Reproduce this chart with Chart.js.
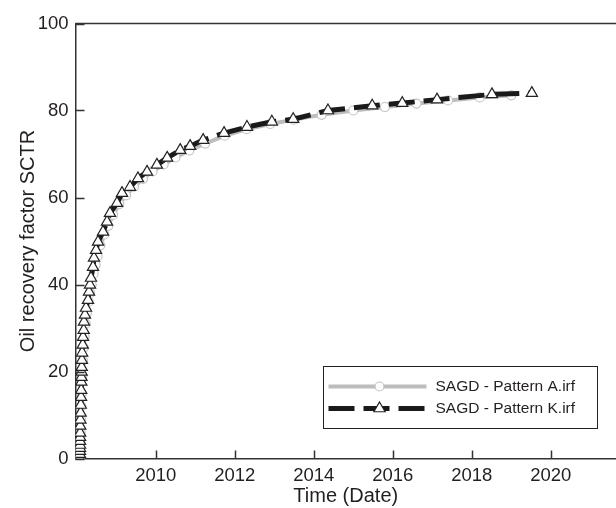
<!DOCTYPE html>
<html>
<head>
<meta charset="utf-8">
<title>Oil recovery factor</title>
<script src="https://cdn.jsdelivr.net/npm/chart.js@4.4.1/dist/chart.umd.min.js"></script>
<style>
  html, body { margin: 0; padding: 0; background: #fff; }
  #wrap { width: 616px; height: 508px; }
</style>
</head>
<body>
<div id="wrap"><canvas id="recovery" width="616" height="508"></canvas></div>
<script>
// axis ticks
const yearTicks = [2010, 2012, 2014, 2016, 2018, 2020];
const recoveryTicks = [0, 20, 40, 60, 80, 100];

// SAGD - Pattern K.irf (decimal year, recovery %)
const patternKTimes = [
  2008.080, 2008.081, 2008.082, 2008.083, 2008.084, 2008.085, 2008.086, 2008.088,
  2008.090, 2008.093, 2008.099, 2008.103, 2008.110, 2008.114,
  2008.118, 2008.121, 2008.124, 2008.127,
  2008.132, 2008.138, 2008.152, 2008.160, 2008.177, 2008.185,
  2008.210, 2008.236, 2008.286, 2008.312, 2008.337, 2008.362, 2008.413, 2008.438,
  2008.489, 2008.540, 2008.666, 2008.767, 2008.843,
  2009.020, 2009.147, 2009.350, 2009.550, 2009.780,
  2010.030, 2010.290, 2010.620, 2010.870,
  2011.200, 2011.730, 2012.310, 2012.940, 2013.480, 2014.360,
  2015.480, 2016.240, 2017.120, 2018.510, 2019.520
];
const patternKValues = [
  0, 1, 1.7, 2.4, 3.1, 4, 4.9, 5.9,
  7.5, 8.9, 10.5, 12.3, 14.1, 15.7,
  17.6, 18.7, 19.9, 21,
  22.6, 24.3, 26.1, 27.9, 29.5, 31.4,
  33, 34.6, 36.4, 38.3, 39.9, 41.5, 44, 46.1,
  47.9, 49.8, 52.1, 54.4, 56.4,
  58.7, 61, 62.4, 64.4, 65.9,
  67.5, 69.1, 70.9, 71.8,
  73.2, 74.8, 76.2, 77.4, 78.0, 80.0,
  81.1, 81.7, 82.5, 83.7, 84.0
];

// SAGD - Pattern A.irf
const patternATimes = [
  2008.085, 2008.09, 2008.095, 2008.10, 2008.11, 2008.12, 2008.13, 2008.145,
  2008.16, 2008.18, 2008.20, 2008.23, 2008.26, 2008.30, 2008.34, 2008.38,
  2008.43, 2008.48, 2008.53, 2008.60, 2008.70, 2008.80, 2008.92,
  2009.08, 2009.25, 2009.45, 2009.68, 2009.92,
  2010.20, 2010.50, 2010.85, 2011.25, 2011.75, 2012.30, 2012.90, 2013.50,
  2014.20, 2015.00, 2015.80, 2016.60, 2017.40, 2018.20, 2019.00
];
const patternAValues = [
  0, 2, 4, 6, 9, 12, 15, 19,
  22.5, 25.5, 28, 31, 33.5, 36, 38, 40,
  42.5, 44.5, 46.5, 49, 51.5, 53.5, 56,
  58.5, 60.5, 62.5, 64.3, 66,
  67.6, 69.2, 70.8, 72.4, 74.2, 75.7, 76.9, 77.9,
  79.0, 80.0, 80.8, 81.6, 82.3, 83.0, 83.5
];

const seriesNames = ['SAGD - Pattern A.irf', 'SAGD - Pattern K.irf'];

const textColor = '#231f20';
const axisColor = '#333';
const fontFamily = '"Liberation Sans", Arial, Helvetica, sans-serif';

function toPoints(times, values) {
  return times.map((t, i) => ({ x: t, y: values[i] }));
}

// top frame line plus inward tick marks
const frameTicks = {
  id: 'frameTicks',
  afterDraw(chart) {
    const { ctx, chartArea: a, scales: { x, y } } = chart;
    ctx.save();
    ctx.strokeStyle = axisColor;
    ctx.lineWidth = 1.5;
    ctx.beginPath();
    ctx.moveTo(a.left, a.top);
    ctx.lineTo(a.right, a.top);
    x.ticks.forEach(t => {
      const px = Math.round(x.getPixelForValue(t.value)) + 0.5;
      ctx.moveTo(px, a.bottom);
      ctx.lineTo(px, a.bottom - 8);
    });
    y.ticks.forEach(t => {
      const py = Math.round(y.getPixelForValue(t.value)) + 0.5;
      ctx.moveTo(a.left, py);
      ctx.lineTo(a.left + 9, py);
    });
    ctx.stroke();
    ctx.restore();
  }
};

function drawMarker(ctx, ds, x, y) {
  ctx.fillStyle = ds.pointBackgroundColor;
  ctx.strokeStyle = ds.pointBorderColor;
  ctx.lineWidth = ds.pointBorderWidth;
  Chart.helpers.drawPoint(ctx, {
    pointStyle: ds.pointStyle,
    radius: ds.pointRadius,
    borderWidth: ds.pointBorderWidth,
    rotation: 0
  }, x, y);
}

// boxed legend with line samples, lower right of the plot
const curveLegend = {
  id: 'curveLegend',
  afterDraw(chart) {
    const { ctx, chartArea: a } = chart;
    const w = 274, h = 62;
    const bx = Math.round(a.right - 19 - w) + 0.5;
    const by = Math.round(a.bottom - 31 - h) + 0.5;
    ctx.save();
    ctx.fillStyle = '#fff';
    ctx.fillRect(bx, by, w, h);
    ctx.strokeStyle = '#222';
    ctx.lineWidth = 1;
    ctx.strokeRect(bx, by, w, h);

    const order = [1, 0];
    order.forEach((di, i) => {
      const ds = chart.data.datasets[di];
      const cy = by + 20 + i * 22;
      const x0 = bx + 5, x1 = bx + 103, xm = bx + 56;
      ctx.strokeStyle = ds.borderColor;
      ctx.lineWidth = ds.borderWidth;
      ctx.setLineDash(ds.borderDash || []);
      ctx.beginPath();
      ctx.moveTo(x0, cy);
      ctx.lineTo(x1, cy);
      ctx.stroke();
      ctx.setLineDash([]);
      drawMarker(ctx, ds, xm, cy);
      ctx.fillStyle = textColor;
      ctx.font = '15.5px ' + fontFamily;
      ctx.textBaseline = 'middle';
      ctx.fillText(ds.label, bx + 112, cy);
    });
    ctx.restore();
  }
};

const ctx = document.getElementById('recovery').getContext('2d');

new Chart(ctx, {
  type: 'line',
  data: {
    datasets: [
      {
        label: seriesNames[1],
        data: toPoints(patternKTimes, patternKValues),
        borderColor: '#1a1a1a',
        borderWidth: 5,
        borderDash: [26, 9],
        pointStyle: 'triangle',
        pointRadius: 6.5,
        pointBackgroundColor: '#fff',
        pointBorderColor: '#222',
        pointBorderWidth: 1.2,
        tension: 0,
        fill: false
      },
      {
        label: seriesNames[0],
        data: toPoints(patternATimes, patternAValues),
        borderColor: '#bdbdbd',
        borderWidth: 4,
        pointStyle: 'circle',
        pointRadius: 4.5,
        pointBackgroundColor: '#fff',
        pointBorderColor: '#c4c4c4',
        pointBorderWidth: 1.2,
        tension: 0,
        fill: false
      }
    ]
  },
  options: {
    responsive: false,
    animation: false,
    devicePixelRatio: 1,
    layout: { autoPadding: false, padding: { left: 16, top: 23.5, right: 0, bottom: 0 } },
    plugins: {
      legend: { display: false },
      tooltip: { enabled: false }
    },
    scales: {
      x: {
        type: 'linear',
        min: 2007.97,
        max: 2021.65,
        afterBuildTicks: s => { s.ticks = yearTicks.map(v => ({ value: v })); },
        afterFit: s => { s.height = 49.5; s.paddingLeft = 0; s.paddingRight = 0; },
        grid: { drawOnChartArea: false, drawTicks: false },
        border: { display: true, color: axisColor, width: 1.5 },
        ticks: {
          color: textColor,
          font: { size: 18.5, family: fontFamily },
          padding: 6,
          maxRotation: 0,
          callback: v => String(v)
        },
        title: {
          display: true,
          text: 'Time (Date)',
          color: textColor,
          font: { size: 20, family: fontFamily },
          padding: 0
        }
      },
      y: {
        min: 0,
        max: 100,
        afterBuildTicks: s => { s.ticks = recoveryTicks.map(v => ({ value: v })); },
        afterFit: s => { s.width = 59.5; },
        grid: { drawOnChartArea: false, drawTicks: false },
        border: { display: true, color: axisColor, width: 1.5 },
        ticks: {
          color: textColor,
          font: { size: 18.5, family: fontFamily },
          padding: 7,
          callback: v => String(v)
        },
        title: {
          display: true,
          text: 'Oil recovery factor SCTR',
          color: textColor,
          font: { size: 20, family: fontFamily },
          padding: 0
        }
      }
    }
  },
  plugins: [frameTicks, curveLegend]
});
</script>
</body>
</html>
